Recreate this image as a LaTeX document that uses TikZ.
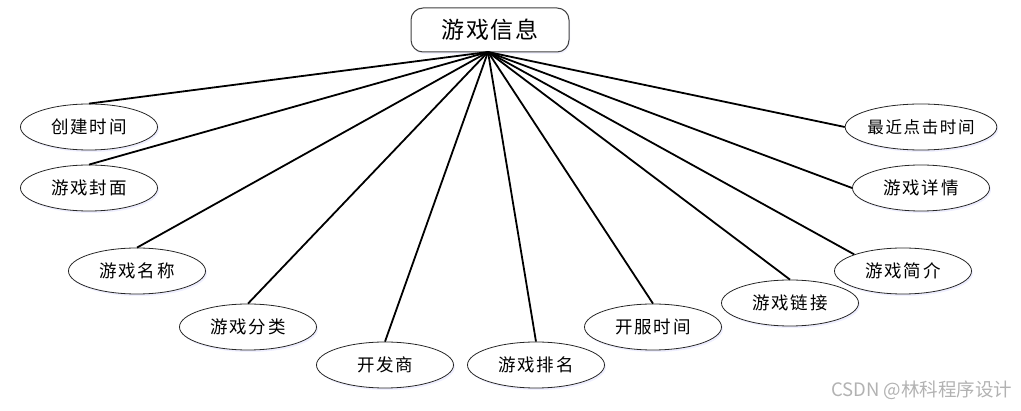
\documentclass[tikz,border=0pt]{standalone}
\usepackage{fontspec}
\setmainfont{Noto Sans CJK SC}
\newfontfamily\spfont[LetterSpace=10]{Noto Sans CJK SC}
\newfontfamily\tspfont[LetterSpace=6]{Noto Sans CJK SC}
\usetikzlibrary{shapes.geometric,shadows}
\tikzset{
  attr/.style={ellipse, draw=black!85, line width=0.8pt, fill=white, minimum width=137pt, minimum height=46pt, inner sep=0pt, font=\spfont\fontsize{17.5}{20}\selectfont, drop shadow={shadow xshift=1.5pt, shadow yshift=-2pt, opacity=0.25, fill=blue!25}},
  ent/.style={rectangle, rounded corners=12pt, draw=black!75, line width=1pt, fill=white, minimum width=158pt, minimum height=44pt, inner sep=0pt, font=\tspfont\fontsize{23}{26}\selectfont, drop shadow={shadow xshift=1pt, shadow yshift=-2pt, opacity=0.2, fill=blue!25}},
  link/.style={line width=1.8pt, black}
}
\begin{document}
\begin{tikzpicture}[x=1pt,y=-1pt]
\useasboundingbox (0,0) rectangle (1021,411);
\node[ent] (top) at (490,30) {游戏信息};
\coordinate (hub) at (488,52);
\node[attr] (a1) at (89,127) {创建时间};
\node[attr] (a2) at (89,188) {游戏封面};
\node[attr] (a3) at (137,271) {游戏名称};
\node[attr] (a4) at (248,327) {游戏分类};
\node[attr] (a5) at (385,365) {开发商};
\node[attr] (a6) at (536,365) {游戏排名};
\node[attr] (a7) at (653,327) {开服时间};
\node[attr] (a8) at (790,303) {游戏链接};
\node[attr] (a9) at (903,271) {游戏简介};
\node[attr] (a10) at (921,188) {游戏详情};
\node[attr, font=\spfont\fontsize{16.5}{19}\selectfont] (a11) at (921,127) {最近点击时间};
\draw[link] (hub) -- (a1.north);
\draw[link] (hub) -- (a2.north);
\draw[link] (hub) -- (a3.north);
\draw[link] (hub) -- (a4.north);
\draw[link] (hub) -- (a5.north);
\draw[link] (hub) -- (a6.north);
\draw[link] (hub) -- (a7.north);
\draw[link] (hub) -- (a8.north);
\draw[link] (hub) -- (a9.north west);
\draw[link] (hub) -- (a10.west);
\draw[link] (hub) -- (a11.west);
\node[font=\fontsize{18.5}{20}\selectfont, text=black!30, anchor=east] (wm) at (1016,390) {CSDN @林科程序设计};
\end{tikzpicture}
\end{document}
